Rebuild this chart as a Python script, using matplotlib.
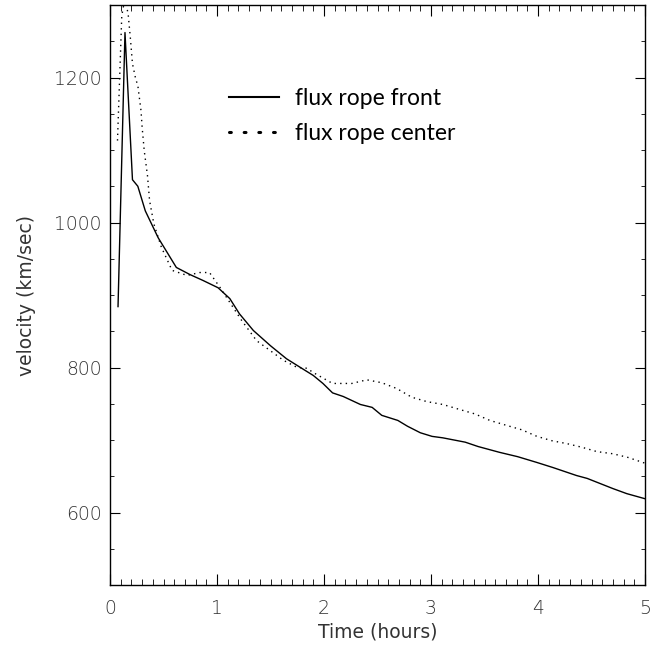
import matplotlib.pyplot as plt
from matplotlib.lines import Line2D
from matplotlib.ticker import MultipleLocator

# flux rope front (solid line)
front_t = [0.075, 0.14, 0.21, 0.26, 0.33, 0.45, 0.62, 0.75, 0.87, 1.01, 1.12, 1.21,
           1.34, 1.50, 1.65, 1.78, 1.90, 1.99, 2.08, 2.18, 2.34, 2.45, 2.54, 2.69,
           2.78, 2.90, 3.01, 3.11, 3.32, 3.44, 3.64, 3.81, 3.99, 4.14, 4.36, 4.46,
           4.58, 4.70, 4.83, 5.0]
front_v = [884, 1262, 1059, 1050, 1016, 979, 938, 928, 920, 910, 895, 874,
           851, 830, 812, 800, 789, 778, 765, 760, 749, 745, 734, 727,
           719, 710, 705, 703, 697, 691, 683, 677, 669, 662, 651, 647,
           640, 633, 626, 619]

# flux rope center (dotted line)
center_t = [0.07, 0.11, 0.14, 0.17, 0.19, 0.21, 0.24, 0.26, 0.29, 0.30, 0.32, 0.35,
            0.37, 0.41, 0.48, 0.58, 0.72, 0.84, 0.93, 1.03, 1.15, 1.23, 1.28, 1.37,
            1.50, 1.62, 1.75, 1.84, 1.90, 2.08, 2.26, 2.40, 2.54, 2.68, 2.82, 2.96,
            3.11, 3.27, 3.41, 3.55, 3.71, 3.85, 3.99, 4.13, 4.27, 4.41, 4.55, 4.70,
            4.84, 5.0]
center_v = [1113, 1285, 1310, 1287, 1255, 1219, 1198, 1189, 1154, 1132, 1099, 1065,
            1030, 998, 966, 934, 927, 931, 931, 910, 883, 865, 855, 837,
            823, 810, 800, 799, 793, 778, 778, 783, 779, 771, 759, 753,
            749, 742, 736, 727, 720, 714, 705, 699, 695, 690, 684, 681,
            676, 668]

plt.rcParams['font.family'] = 'DejaVu Sans'
plt.rcParams['font.weight'] = 'light'

fig = plt.figure(figsize=(6.7, 6.53), dpi=100)
ax = fig.add_axes([110 / 670, 1 - 585 / 653, 535 / 670, 580 / 653])

ax.plot(front_t, front_v, color='black', lw=1.0)
ax.plot(center_t, center_v, color='black', lw=1.0, linestyle=(0, (1, 3)))

ax.set_xlim(0, 5)
ax.set_ylim(500, 1300)
ax.xaxis.set_major_locator(MultipleLocator(1))
ax.xaxis.set_minor_locator(MultipleLocator(0.1))
ax.yaxis.set_major_locator(MultipleLocator(200))
ax.yaxis.set_minor_locator(MultipleLocator(50))

txt_col = '#333333'
ax.tick_params(axis='both', which='both', direction='in', top=True, right=True,
               colors='black', labelcolor=txt_col, labelsize=13.5)
ax.tick_params(axis='x', which='major', length=8, pad=10)
ax.tick_params(axis='x', which='minor', length=4)
ax.tick_params(axis='y', which='major', length=7, pad=6)
ax.tick_params(axis='y', which='minor', length=3)
for s in ax.spines.values():
    s.set_linewidth(1.0)

ax.set_xlabel('Time (hours)', fontsize=13.5, color=txt_col, labelpad=3)
ax.set_ylabel('velocity (km/sec)', fontsize=13.5, color=txt_col, labelpad=13)

handles = [Line2D([], [], color='black', lw=1.5),
           Line2D([], [], color='black', lw=2.2, linestyle=(0, (0.6, 4.2)),
                  dash_capstyle='round')]
ax.legend(handles, ['flux rope front', 'flux rope center'], frameon=False,
          loc='upper left', bbox_to_anchor=(0.183, 0.893),
          prop={'family': 'Lato', 'size': 16.5, 'weight': 'normal'},
          handlelength=2.2, handletextpad=0.7, labelspacing=0.62)

fig.savefig('out.png', dpi=100)
